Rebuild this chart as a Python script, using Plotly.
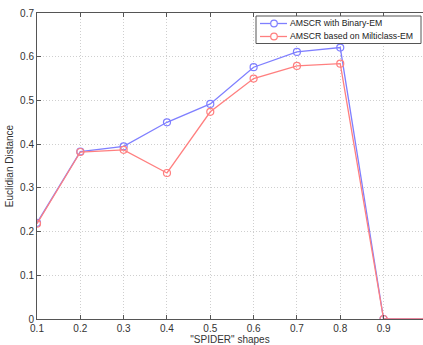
import plotly.graph_objects as go

x_vals = [0.1, 0.2, 0.3, 0.4, 0.5, 0.6, 0.7, 0.8, 0.9, 1.0]
binary_em = [0.22, 0.383, 0.395, 0.45, 0.492, 0.576, 0.611, 0.621, 0.0, 0.0]
multiclass_em = [0.218, 0.382, 0.387, 0.334, 0.474, 0.55, 0.579, 0.584, 0.0, 0.0]
series_names = ["AMSCR with Binary-EM", "AMSCR based on Milticlass-EM"]
series_colors = ["#7f7fff", "#ff7f7f"]
x_ticks = [0.1, 0.2, 0.3, 0.4, 0.5, 0.6, 0.7, 0.8, 0.9]
x_tick_labels = ["0.1", "0.2", "0.3", "0.4", "0.5", "0.6", "0.7", "0.8", "0.9"]
y_ticks = [0, 0.1, 0.2, 0.3, 0.4, 0.5, 0.6, 0.7]
y_tick_labels = ["0", "0.1", "0.2", "0.3", "0.4", "0.5", "0.6", "0.7"]

W, H = 423, 345
ML, MR, MT, MB = 37, 0, 13, 26
PW, PH = W - ML - MR, H - MT - MB

fig = go.Figure()
for name, ys, col in zip(series_names, [binary_em, multiclass_em], series_colors):
    fig.add_trace(go.Scatter(
        x=x_vals, y=ys, mode="lines+markers", name=name,
        line=dict(color=col, width=1.3),
        marker=dict(symbol="circle-open", size=7, color=col, line=dict(width=1.2)),
        showlegend=False,
    ))

# custom compact legend (MATLAB style)
def px_x(p):
    return (p - ML) / PW

def px_y(p):
    return 1 - (p - MT) / PH

fig.add_shape(type="rect", xref="paper", yref="paper",
              x0=px_x(256), x1=px_x(421), y0=px_y(43.5), y1=px_y(16),
              line=dict(color="#555555", width=1), fillcolor="white", layer="above")
rows = [23.5, 36.5]
r = 3.3
for name, col, ry in zip(series_names, series_colors, rows):
    fig.add_shape(type="line", xref="paper", yref="paper",
                  x0=px_x(260), x1=px_x(287), y0=px_y(ry), y1=px_y(ry),
                  line=dict(color=col, width=1.3), layer="above")
    fig.add_shape(type="circle", xref="paper", yref="paper",
                  x0=px_x(274 - r), x1=px_x(274 + r), y0=px_y(ry + r), y1=px_y(ry - r),
                  line=dict(color=col, width=1.2), fillcolor="white", layer="above")
    fig.add_annotation(xref="paper", yref="paper", x=px_x(288), y=px_y(ry),
                       xanchor="left", yanchor="middle", showarrow=False,
                       text=name, font=dict(size=8.7, color="#222222"))

axis_common = dict(
    showgrid=True, gridcolor="#cfcfcf", griddash="1px,2px", gridwidth=1,
    showline=True, linecolor="#555555", linewidth=1,
    ticks="inside", ticklen=4, tickcolor="#555555",
    zeroline=False,
    tickfont=dict(family="Liberation Sans, Arial", size=10, color="#333333"),
)

fig.update_layout(
    width=W, height=H,
    margin=dict(l=ML, r=MR, t=MT, b=MB),
    paper_bgcolor="white", plot_bgcolor="white",
    font=dict(family="Liberation Sans, Arial", size=10, color="#333333"),
    xaxis=dict(range=[0.1, 0.991], tickvals=x_ticks, ticktext=x_tick_labels,
               mirror="ticks",
               title=dict(text="\"SPIDER\" shapes", font=dict(size=10), standoff=2),
               **axis_common),
    yaxis=dict(range=[0, 0.7], tickvals=y_ticks, ticktext=y_tick_labels,
               mirror=False,
               title=dict(text="Euclidian Distance", font=dict(size=10), standoff=4),
               **axis_common),
    showlegend=False,
)

fig.write_html("out.html")
